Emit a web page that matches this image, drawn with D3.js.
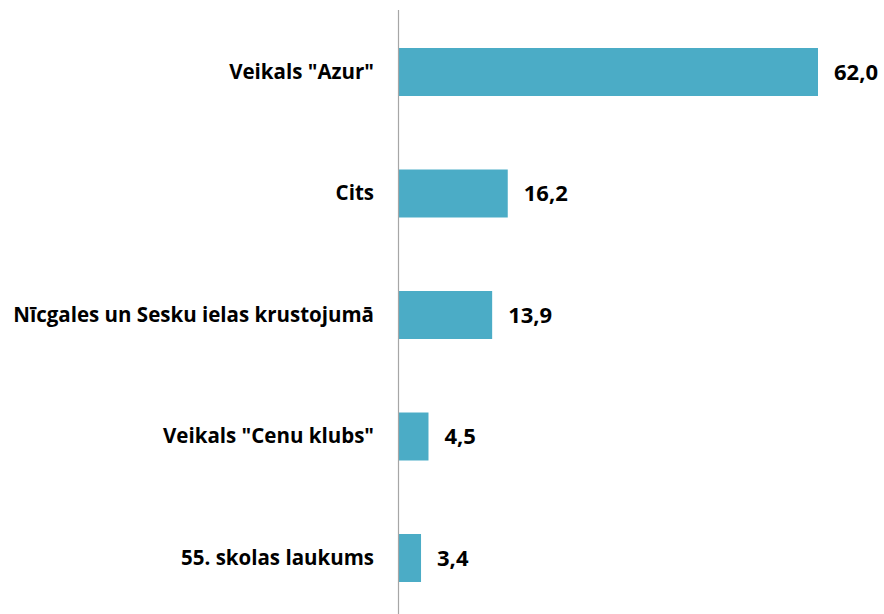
<!DOCTYPE html>
<html>
<head>
<meta charset="utf-8">
<script src="https://cdn.jsdelivr.net/npm/d3@7"></script>
<style>
  html, body { margin: 0; padding: 0; background: #fff; }
  svg { display: block; }
  text { font-family: 'Open Sans', sans-serif; font-weight: bold; fill: #000; }
</style>
</head>
<body>
<div id="viz"></div>
<script>
'use strict';

const categories = [
  'Veikals "Azur"',
  'Cits',
  'Nīcgales un Sesku ielas krustojumā',
  'Veikals "Cenu klubs"',
  '55. skolas laukums'
];
const values = [62.0, 16.2, 13.9, 4.5, 3.4];

const W = 884, H = 614;
const margin = {top: 11.25, right: 66, bottom: -4.75, left: 398};
const width = W - margin.left - margin.right;
const height = H - margin.top - margin.bottom;

const svg = d3.select('#viz')
  .append('svg')
    .attr('width', W)
    .attr('height', H);

const g = svg.append('g')
  .attr('transform', `translate(${margin.left},${margin.top})`);

const x = d3.scaleLinear()
  .domain([0, 62])
  .range([0, width]);

const y = d3.scaleBand()
  .domain(categories)
  .range([0, height])
  .paddingInner(0.605)
  .paddingOuter(0.3025);

const data = categories.map((c, i) => ({name: c, value: values[i]}));

// bars
g.selectAll('rect.bar')
  .data(data)
  .join('rect')
    .attr('class', 'bar')
    .attr('x', x(0))
    .attr('y', d => y(d.name))
    .attr('width', d => x(d.value) - x(0))
    .attr('height', y.bandwidth())
    .attr('fill', '#4bacc6');

// value labels
const fmt = v => v.toFixed(1).replace('.', ',');
g.selectAll('text.val')
  .data(data)
  .join('text')
    .attr('class', 'val')
    .attr('x', d => x(d.value) + 16)
    .attr('y', d => y(d.name) + y.bandwidth() / 2)
    .attr('dy', '0.35em')
    .style('font-size', '22px')
    .text(d => fmt(d.value));

// category axis
const yAxis = g.append('g')
  .call(d3.axisLeft(y).tickSize(0).tickPadding(24));

yAxis.select('.domain')
  .attr('stroke', '#a6a6a6')
  .attr('stroke-width', 1.2)
  .attr('d', `M0.5,-1.25V${height}`);

yAxis.selectAll('.tick text')
  .style('font-size', '20.5px')
  .attr('fill', '#000');
</script>
</body>
</html>
